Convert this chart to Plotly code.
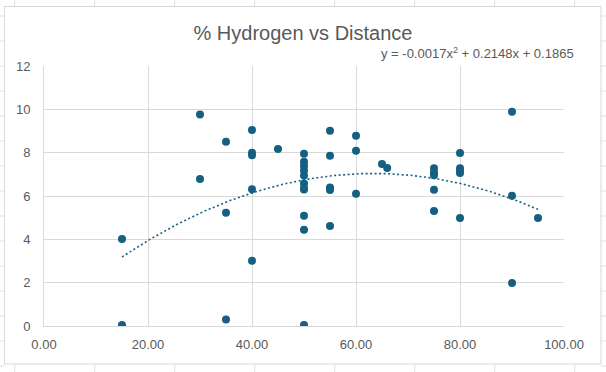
import numpy as np
import plotly.graph_objects as go

# ---- data ----
distance = [15, 15,
            30, 30,
            35, 35, 35,
            40, 40, 40, 40, 40,
            45,
            50, 50, 50, 50, 50, 50, 50, 50, 50, 50, 50,
            55, 55, 55, 55, 55,
            60, 60, 60,
            65, 66,
            75, 75, 75, 75, 75,
            80, 80, 80, 80, 80,
            90, 90, 90,
            95]
hydrogen = [4.02, 0.05,
            9.76, 6.79,
            8.50, 5.23, 0.30,
            9.05, 8.00, 7.88, 6.31, 3.01,
            8.17,
            7.95, 7.58, 7.38, 7.18, 6.95, 6.58, 6.36, 6.30, 5.09, 4.44, 0.05,
            9.01, 7.86, 6.39, 6.28, 4.61,
            8.78, 8.09, 6.10,
            7.48, 7.29,
            7.28, 7.08, 6.96, 6.29, 5.31,
            7.99, 7.28, 7.16, 7.06, 4.98,
            9.89, 6.01, 1.98,
            4.98]
title_text = "% Hydrogen vs Distance"
equation_text = "y = -0.0017x<sup>2</sup> + 0.2148x + 0.1865"
x_ticks = [0, 20, 40, 60, 80, 100]
y_ticks = [0, 2, 4, 6, 8, 10, 12]

# polynomial (order 2) trendline fitted from the data
coef = np.polyfit(distance, hydrogen, 2)
trend_x = np.linspace(min(distance), max(distance), 200)
trend_y = np.polyval(coef, trend_x)

ACCENT = "#156082"
GRID = "#d9d9d9"
TEXT = "#595959"

W, H = 606, 372
L, R, T, B = 44, 42, 66, 46
PW, PH = W - L - R, H - T - B


def px(xp):
    return (xp - L) / PW


def py(yp):
    return (H - B - yp) / PH


fig = go.Figure()
fig.add_trace(go.Scatter(x=trend_x, y=trend_y, mode="lines",
                         line=dict(color=ACCENT, width=1.6, dash="2px,2.5px"),
                         hoverinfo="skip", showlegend=False))
fig.add_trace(go.Scatter(x=distance, y=hydrogen, mode="markers",
                         marker=dict(color=ACCENT, size=8),
                         showlegend=False))

shapes = []
# spreadsheet cell grid behind the chart
for k in range(8):
    xv = 14.7 + 80 * k
    shapes.append(dict(type="line", xref="paper", yref="paper",
                       x0=px(xv), x1=px(xv), y0=py(0), y1=py(6),
                       line=dict(color="#e1e1e1", width=1), layer="below"))
    shapes.append(dict(type="line", xref="paper", yref="paper",
                       x0=px(xv), x1=px(xv), y0=py(364), y1=py(372),
                       line=dict(color="#e1e1e1", width=1), layer="below"))
for k in range(15):
    yv = 16 + 25 * k
    shapes.append(dict(type="line", xref="paper", yref="paper",
                       x0=px(0), x1=px(4), y0=py(yv), y1=py(yv),
                       line=dict(color="#e1e1e1", width=1), layer="below"))
    shapes.append(dict(type="line", xref="paper", yref="paper",
                       x0=px(601), x1=px(606), y0=py(yv), y1=py(yv),
                       line=dict(color="#e1e1e1", width=1), layer="below"))
# chart area border
shapes.append(dict(type="rect", xref="paper", yref="paper",
                   x0=px(4.5), x1=px(601), y0=py(6.5), y1=py(364),
                   line=dict(color=GRID, width=1), fillcolor="rgba(0,0,0,0)",
                   layer="below"))

fig.update_layout(
    width=W, height=H,
    margin=dict(l=L, r=R, t=T, b=B),
    paper_bgcolor="white", plot_bgcolor="white",
    font=dict(family="Liberation Sans, Arial, sans-serif", color=TEXT, size=13),
    title=dict(text=title_text, x=px(304), xanchor="center",
               y=1 - 33 / H, yanchor="middle",
               font=dict(size=20, color=TEXT)),
    shapes=shapes,
    annotations=[dict(text=equation_text, xref="paper", yref="paper",
                      x=px(576), y=py(53), xanchor="right", yanchor="middle",
                      showarrow=False, font=dict(size=13, color=TEXT))],
    xaxis=dict(range=[0, 100], tickvals=x_ticks,
               ticktext=[f"{v:.2f}" for v in x_ticks],
               showgrid=True, gridcolor=GRID, gridwidth=1,
               showline=True, linecolor=GRID, linewidth=1, mirror=False,
               zeroline=False, ticks="", ticklabelstandoff=6,
               tickfont=dict(size=13, color=TEXT), fixedrange=True),
    yaxis=dict(range=[0, 12], tickvals=y_ticks,
               showgrid=True, gridcolor=GRID, gridwidth=1,
               showline=True, linecolor=GRID, linewidth=1,
               zeroline=False, ticks="", ticklabelstandoff=10,
               tickfont=dict(size=13, color=TEXT), fixedrange=True),
)

fig.write_html("out.html", config={"displayModeBar": False},
               post_script="document.body.style.margin='0';document.body.style.overflow='hidden';")
